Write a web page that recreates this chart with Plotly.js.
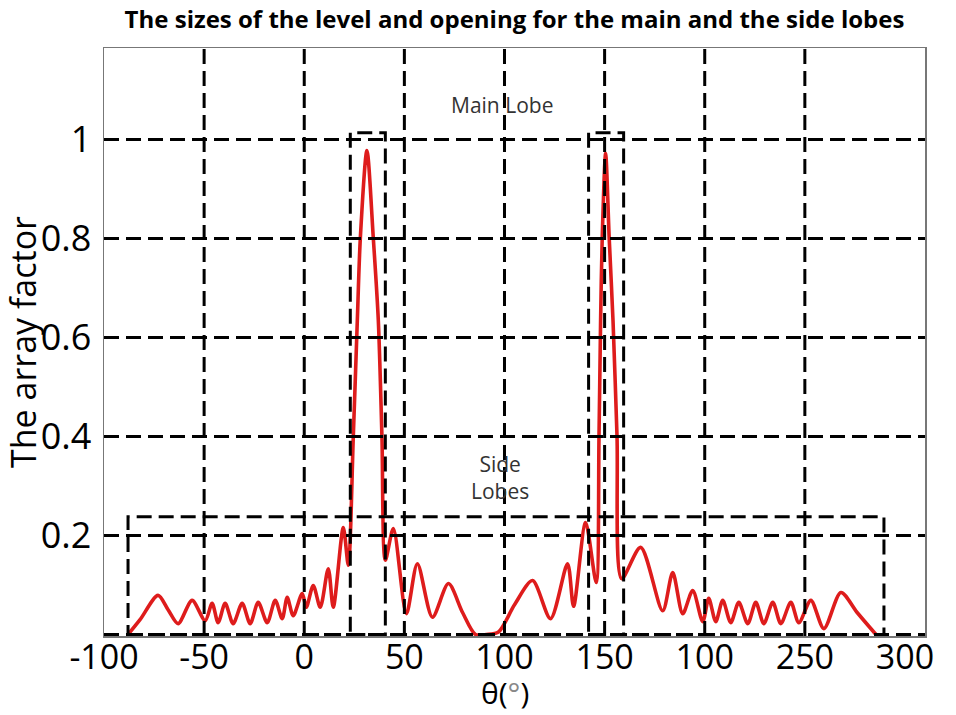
<!DOCTYPE html>
<html>
<head>
<meta charset="utf-8">
<script src="https://cdn.plot.ly/plotly-3.0.1.min.js"></script>
<style>html,body{margin:0;padding:0;background:#fff;}#chart{width:956px;height:715px;}</style>
</head>
<body>
<div id="chart"></div>
<script>
// Angle (degrees) and array factor
const theta = [-88,-82,-73,-68,-63,-56,-49.5,-46,-43,-39.5,-35.5,-31,-27,-23,-18.5,-14.5,-11,-8.5,-5.5,-1,
  1,4.5,8,12,14.5,19.5,22,24.5,26.5,28,31.3,34.5,37,38.8,40.5,44.5,51,56.5,64,72,79,85.5,91,97,
  105,114,123,131.5,134.5,140.5,145.8,147.2,148,148.8,150.5,152.3,154.2,156.2,158.5,168,179,184,189,194,
  199,202,205.5,209,213,217,221.5,225.5,229.5,234,238,243,247,253,259.5,268,276,285.5];
const arrayFactor = [0,0.03,0.079,0.05,0.022,0.069,0.028,0.063,0.024,0.063,0.022,0.063,0.022,0.065,0.024,0.069,0.032,0.075,0.038,0.083,
  0.055,0.099,0.055,0.133,0.055,0.216,0.14,0.4,0.634,0.8,0.978,0.8,0.634,0.4,0.15,0.214,0.042,0.143,0.035,0.103,0.045,0,0,0.005,
  0.06,0.109,0.032,0.143,0.057,0.226,0.105,0.4,0.634,0.8,0.972,0.8,0.634,0.4,0.113,0.176,0.048,0.125,0.042,0.089,
  0.026,0.073,0.026,0.069,0.024,0.065,0.022,0.065,0.022,0.065,0.022,0.065,0.024,0.069,0.012,0.085,0.045,0];

// Axis ticks (labels as printed in the reference)
const xTickVals = [-100,-50,0,50,100,150,200,250,300];
const xTickText = ['-100','-50','0','50','100','150','100','250','300'];
const yTickVals = [0.2,0.4,0.6,0.8,1];
const yTickText = ['0.2','0.4','0.6','0.8','1'];
const xGridVals = [-50,0,50,100,150,200,250];
const yGridVals = [0,0.2,0.4,0.6,0.8,1];
const xTitle = "θ(<span style='color:#888'>°</span>)";
const yTitle = 'The array factor';

// Dashed annotation boxes: [x0, x1, top]
const mainLobeBoxes = [[23,40.5,1.014],[142,159.5,1.014]];
const sideLobeBox = [-88,289.5,0.238];

const dashStyle = '15px,7px';
const gridLine = {color:'#000', width:3, dash:dashStyle};
const shapes = [];
xGridVals.forEach(v => shapes.push({type:'line', xref:'x', yref:'paper', x0:v, x1:v, y0:0, y1:1, line:gridLine, layer:'above'}));
yGridVals.forEach(v => shapes.push({type:'line', xref:'paper', yref:'y', x0:0, x1:1, y0:v, y1:v, line:gridLine, layer:'above'}));
mainLobeBoxes.concat([sideLobeBox]).forEach(b => shapes.push({type:'rect', xref:'x', yref:'y', x0:b[0], x1:b[1], y0:0, y1:b[2], line:gridLine, layer:'above'}));

const data = [{
  x: theta, y: arrayFactor, type:'scatter', mode:'lines',
  line:{color:'rgb(222,28,28)', width:3.6, shape:'spline', smoothing:0.8},
  hoverinfo:'skip'
}];

const layout = {
  width:956, height:715,
  margin:{l:104, r:31, t:48, b:79},
  paper_bgcolor:'#fff', plot_bgcolor:'#fff',
  font:{family:'"Open Sans", sans-serif', color:'#000'},
  showlegend:false,
  title:{text:'The sizes of the level and opening for the main and the side lobes',
    font:{family:'"Open Sans", sans-serif', size:24, weight:'bold', color:'#000'},
    x:0.5, xref:'paper', xanchor:'center', y:0.972, yref:'container', yanchor:'middle'},
  xaxis:{range:[-100,310], tickmode:'array', tickvals:xTickVals, ticktext:xTickText,
    showgrid:false, zeroline:false, showline:true, mirror:true, linecolor:'#777', linewidth:1.5,
    ticks:'', tickfont:{size:34, color:'#000'}, ticklabeloverflow:'allow', ticklabelstandoff:-9},
  yaxis:{range:[-0.003,1.185], tickmode:'array', tickvals:yTickVals, ticktext:yTickText,
    showgrid:false, zeroline:false, showline:true, mirror:true, linecolor:'#777', linewidth:1.5,
    ticks:'', tickfont:{size:36, color:'#000'}, ticklabelstandoff:4,
    title:{text:yTitle, font:{size:34, color:'#000'}, standoff:0}},
  shapes: shapes,
  annotations:[
    {text:xTitle, x:0.489, y:-0.096, xref:'paper', yref:'paper', xanchor:'center', yanchor:'middle', showarrow:false, borderpad:0, font:{size:30, color:'#000'}},
    {text:'Main Lobe', x:99, y:1.069, xref:'x', yref:'y', showarrow:false, font:{size:21, color:'#333'}},
    {text:'Side<br>Lobes', x:98, y:0.317, xref:'x', yref:'y', showarrow:false, font:{size:21, color:'#333'}}
  ]
};

Plotly.newPlot('chart', data, layout, {displayModeBar:false, staticPlot:true});
</script>
</body>
</html>
